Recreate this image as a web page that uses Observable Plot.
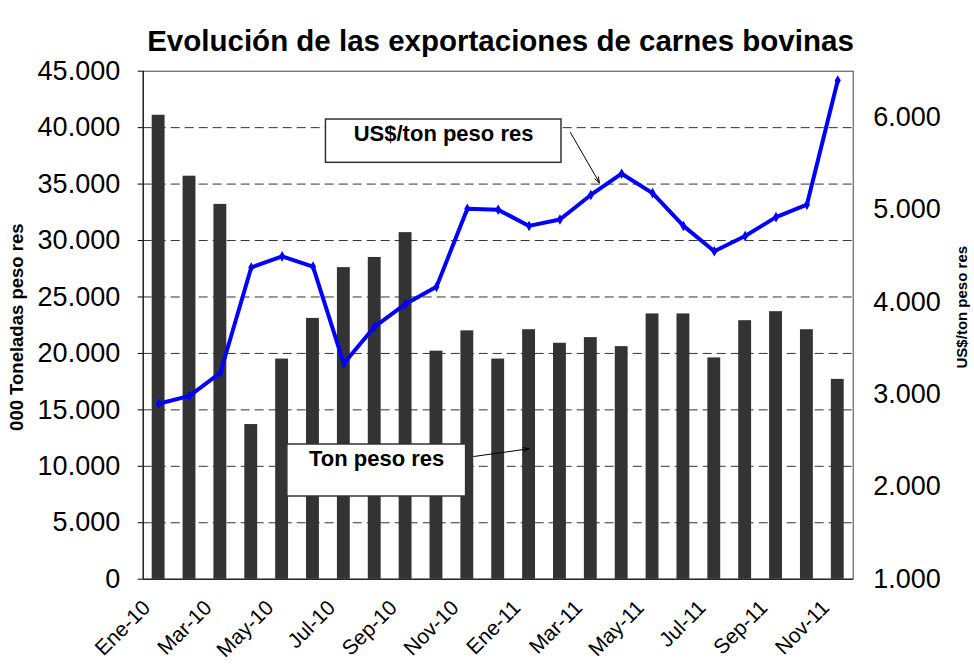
<!DOCTYPE html>
<html>
<head>
<meta charset="utf-8">
<script src="https://cdn.jsdelivr.net/npm/d3@7"></script>
<script src="https://cdn.jsdelivr.net/npm/@observablehq/plot@0.6"></script>
<style>
  body { margin: 0; background: #fff; }
  #wrap { width: 974px; height: 665px; position: relative; overflow: hidden; }
  #title { height: 48px; position: relative; }
  #title span { position: absolute; left: 27px; right: 0; top: 26px; text-align: center;
    font: bold 29.5px "Liberation Sans", Arial, sans-serif; line-height: 29px; color: #000; white-space: nowrap; }
</style>
</head>
<body>
<div id="wrap">
  <div id="title"><span>Evolución de las exportaciones de carnes bovinas</span></div>
  <div id="chart"></div>
</div>
<script>
// ---- data ----
const months = ["Ene-10","Feb-10","Mar-10","Abr-10","May-10","Jun-10","Jul-10","Ago-10","Sep-10","Oct-10","Nov-10","Dic-10",
                "Ene-11","Feb-11","Mar-11","Abr-11","May-11","Jun-11","Jul-11","Ago-11","Sep-11","Oct-11","Nov-11"];
const tons = [41100,35700,33200,13700,19500,23100,27600,28500,30700,20200,22000,19500,
              22100,20900,21400,20600,23500,23500,19600,22900,23700,22100,17700];
const prices = [2900,2985,3235,4375,4495,4385,3335,3735,3980,4165,5010,5000,
                4825,4895,5160,5390,5180,4825,4550,4715,4920,5055,6400];
const leftTicks = [0,5000,10000,15000,20000,25000,30000,35000,40000,45000];
const gridTicks = [5000,10000,15000,20000,25000,30000,35000,40000];
const rightTicks = [1000,2000,3000,4000,5000,6000];
const xTickIdx = [0,2,4,6,8,10,12,14,16,18,20,22];
const leftTitle = "000 Toneladas peso res";
const rightTitle = "US$/ton peso res";

// annotations (in data units: x = month index, y = left-axis units)
const annBoxes = [
  {x1: 5.42, x2: 13.05, y1: 36885, y2: 40720},
  {x1: 4.17, x2: 9.96, y1: 7326, y2: 11932}
];
const annTexts = [
  {x: 9.23, y: 39454, text: "US$/ton peso res"},
  {x: 7.06, y: 10692, text: "Ton peso res"}
];
const annArrows = [
  {x1: 13.34, y1: 39569, x2: 14.28, y2: 35110},
  {x1: 10.21, y1: 10869, x2: 11.99, y2: 11551}
];

// ---- helpers ----
const leftMax = 45000, rMin = 1000, rMax = 6500;
const toLeft = v => (v - rMin) * leftMax / (rMax - rMin);
const fromLeft = y => y * (rMax - rMin) / leftMax + rMin;
const fmt = d3.formatLocale({decimal: ",", thousands: ".", grouping: [3], currency: ["$", ""]}).format(",.0f");

const rows = months.map((m, i) => ({i, m, tons: tons[i], price: prices[i]}));

const chart = Plot.plot({
  width: 974,
  height: 617,
  marginTop: 22.7,
  marginBottom: 86.3,
  marginLeft: 142.7,
  marginRight: 121.3,
  x: {domain: [-0.5, 22.5]},
  y: {domain: [0, leftMax]},
  style: {fontFamily: "'Liberation Sans', Arial, sans-serif", color: "#000", background: "#fff", overflow: "visible"},
  marks: [
    Plot.ruleY(gridTicks, {stroke: "#333", strokeDasharray: "9,5"}),
    Plot.rectY(rows, {x1: d => d.i - 0.5, x2: d => d.i + 0.5, y1: 0, y2: "tons", insetLeft: 9, insetRight: 9, fill: "#333333"}),
    Plot.line(rows, {x: "i", y: d => toLeft(d.price), stroke: "#0000ff", strokeWidth: 4}),
    Plot.dot(rows, {x: "i", y: d => toLeft(d.price), symbol: "diamond", r: 3.2, fill: "#0000ff"}),
    Plot.frame({stroke: "#444"}),
    Plot.ruleY([0], {stroke: "#000"}),
    Plot.ruleX([-0.5], {stroke: "#000"}),
    Plot.axisY(leftTicks, {anchor: "left", tickSize: 5, tickPadding: 18, fontSize: 27, tickFormat: fmt, label: null}),
    Plot.axisY(rightTicks.map(toLeft), {anchor: "right", tickSize: 0, tickPadding: 20, fontSize: 27,
      tickFormat: d => fmt(Math.round(fromLeft(d))), label: null}),
    Plot.axisX(xTickIdx, {anchor: "bottom", tickSize: 0, tickPadding: 25, tickRotate: -45, fontSize: 21,
      tickFormat: i => months[i], label: null, dx: -12}),
    Plot.rect(annBoxes, {x1: "x1", x2: "x2", y1: "y1", y2: "y2", fill: "#fff", stroke: "#333", strokeWidth: 1.5}),
    Plot.text(annTexts, {x: "x", y: "y", text: "text", fontSize: 22, fontWeight: "bold", fill: "#000"}),
    Plot.arrow(annArrows, {x1: "x1", y1: "y1", x2: "x2", y2: "y2", stroke: "#000", strokeWidth: 1, headLength: 9, headAngle: 40}),
    Plot.text([leftTitle], {frameAnchor: "left", textAnchor: "middle", rotate: -90, dx: -125.7, dy: 2, fontSize: 18.5, fontWeight: "bold", fill: "#000"}),
    Plot.text([rightTitle], {frameAnchor: "right", textAnchor: "middle", rotate: -90, dx: 109.3, dy: -18, fontSize: 15, fontWeight: "bold", fill: "#000"})
  ]
});
document.getElementById("chart").appendChild(chart);
</script>
</body>
</html>
